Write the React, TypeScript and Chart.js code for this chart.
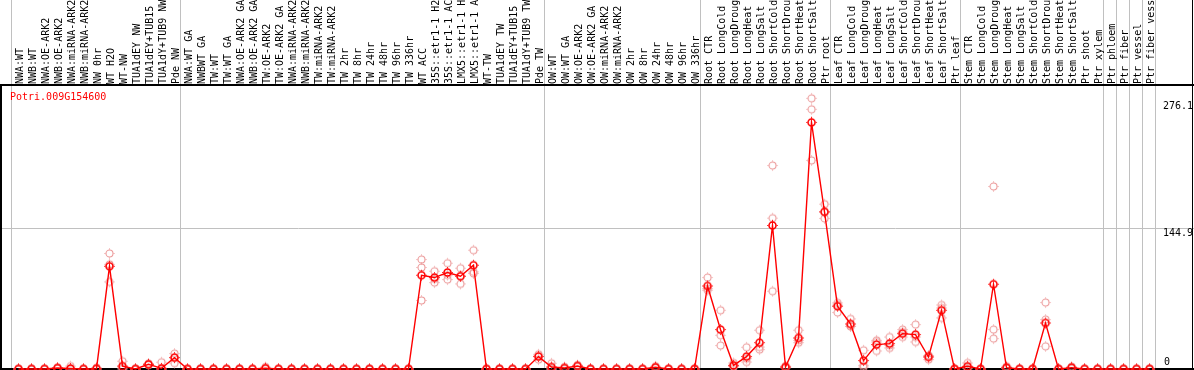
import React, { useEffect, useRef } from "react";
import { Chart, registerables } from "chart.js";
Chart.register(...registerables);

const categories = [
  "NWA:WT", "NWB:WT", "NWA:OE-ARK2", "NWB:OE-ARK2", "NWA:miRNA-ARK2", "NWB:miRNA-ARK2",
  "NW 0hr", "WT H2O", "WT-NW", "TUA1dEY NW", "TUA1dEY+TUB15", "TUA1dY+TUB9 NW", "Pde NW",
  "NWA:WT GA", "NWBWT GA", "TW:WT", "TW:WT GA", "NWA:OE-ARK2 GA", "NWB:OE-ARK2 GA",
  "TW:OE-ARK2", "TW:OE-ARK2 GA", "NWA:miRNA-ARK2", "NWB:miRNA-ARK2", "TW:miRNA-ARK2",
  "TW:miRNA-ARK2", "TW 2hr", "TW 8hr", "TW 24hr", "TW 48hr", "TW 96hr", "TW 336hr",
  "WT ACC", "35S::etr1-1 H2", "35S::etr1-1 AC", "LMX5::etr1-1 H", "LMX5::etr1-1 A",
  "WT-TW", "TUA1dEY TW", "TUA1dEY+TUB15", "TUA1dY+TUB9 TW", "Pde TW",
  "OW:WT", "OW:WT GA", "OW:OE-ARK2", "OW:OE-ARK2 GA", "OW:miRNA-ARK2", "OW:miRNA-ARK2",
  "OW 2hr", "OW 8hr", "OW 24hr", "OW 48hr", "OW 96hr", "OW 336hr",
  "Root CTR", "Root LongCold", "Root LongDroug", "Root LongHeat", "Root LongSalt",
  "Root ShortCold", "Root ShortDrou", "Root ShortHeat", "Root ShortSalt", "Ptr root",
  "Leaf CTR", "Leaf LongCold", "Leaf LongDroug", "Leaf LongHeat", "Leaf LongSalt",
  "Leaf ShortCold", "Leaf ShortDrou", "Leaf ShortHeat", "Leaf ShortSalt", "Ptr leaf",
  "Stem CTR", "Stem LongCold", "Stem LongDroug", "Stem LongHeat", "Stem LongSalt",
  "Stem ShortCold", "Stem ShortDrou", "Stem ShortHeat", "Stem ShortSalt", "Ptr shoot",
  "Ptr xylem", "Ptr phloem", "Ptr fiber", "Ptr vessel", "Ptr fiber vess",
];

const meanValues = [
  0, 0, 0, 1, 0.5, 0, 0.3, 106, 3, 0, 4.8, 0.7, 11.7,
  0, 0, 0, 0, 0, 0, 0.8, 0, 0, 0, 0, 0, 0, 0, 0, 0, 0, 0,
  96.8, 94.4, 99.6, 95.8, 107.1, 0, 0, 0, 0, 12.8,
  2, 1, 3.1, 0, 0, 0, 0, 0, 1.8, 0, 0, 0,
  85.7, 40.7, 3.8, 12.8, 27.2, 148.1, 2, 32, 254.5, 162.2,
  64.8, 46.5, 8.7, 25.2, 26.2, 36.5, 35.5, 12.4, 60.6, 0,
  2.8, 0, 87.5, 1.4, 0, 0, 47.5, 0, 1.4, 0, 0,
  0, 0, 0, 0,
];

const replicate1 = [
  0, 0, 0, 1.5, 3, 0, 1.5, 119.2, 8, 0, 5.5, 7, 15.9,
  0, 0, 0, 0, 0, 0, 2, 0, 0, 0, 0, 0, 0, 0, 0, 0, 0, 0,
  113, 100.9, 109.2, 104, 122.6, 0, 0, 0, 0, 15.2,
  5.9, 2, 4, 0, 0, 0, 0, 0, 2.8, 0, 0, 0,
  94.4, 60.6, 6.2, 22.4, 40, 210, 3, 40, 279.3, 170.1,
  68.2, 51.7, 19.3, 29.6, 33, 40.7, 45.8, 13.8, 66.1, 0,
  6.2, 0, 188.4, 2.8, 0, 0, 68.6, 0, 2.5, 0, 0,
  0, 0, 0, 0,
];

const replicate2 = [
  0, 0, 0, 1, 0, 0, 0, 108, 1, 0, 5, 0, 12,
  0, 0, 0, 0, 0, 0, 0.5, 0, 0, 0, 0, 0, 0, 0, 0, 0, 0, 0,
  104.8, 93, 97, 95.5, 100.2, 0, 0, 0, 0, 13.5,
  0, 1, 3, 0, 0, 0, 0, 0, 1.5, 0, 0, 0,
  83, 34.8, 2.8, 10.7, 22.7, 155.7, 2, 29.6, 268, 162,
  66, 44.1, 3.8, 27.9, 24.5, 38, 33, 13.5, 63, 0,
  1.5, 0, 40.7, 1, 0, 0, 51, 0, 1.5, 0, 0,
  0, 0, 0, 0,
];

const replicate3 = [
  0, 0, 0, 0.5, 0, 0, 0, 89.9, 0, 0, 4, 0, 6,
  0, 0, 0, 0, 0, 0, 0, 0, 0, 0, 0, 0, 0, 0, 0, 0, 0, 0,
  70.7, 89.2, 92.3, 87.8, 98.5, 0, 0, 0, 0, 9.7,
  0, 0, 2.3, 0, 0, 0, 0, 0, 1, 0, 0, 0,
  81.3, 24.2, 2.4, 7.2, 20, 80.3, 1, 27.2, 215.3, 155.4,
  58.3, 44, 2, 18.6, 21.7, 33, 27.9, 9.7, 52.7, 0,
  0.5, 0, 31.4, 0.5, 0, 0, 23.4, 0, 0.3, 0, 0,
  0, 0, 0, 0,
];

// separators are drawn after these category counts
const groupBoundaries = [0, 13, 41, 53, 63, 73, 84, 85, 86, 87, 88];
const yTickValues = [276.1, 144.9, 0];
const yTickLabels = ["276.1", "144.9", "0"];
const yGridValues = [144.9];
const geneId = "Potri.009G154600";

const Y_MAX = 293.1;
const X_MIN = -0.346;
const X_MAX = 91.346;
const FONT = "10px 'DejaVu Sans Mono', monospace";

function makeMarker(color: string, r: number, lw: number) {
  const s = 13;
  const c = document.createElement("canvas");
  c.width = s;
  c.height = s;
  const g = c.getContext("2d")!;
  const m = s / 2;
  g.strokeStyle = color;
  g.lineWidth = lw;
  g.beginPath();
  g.arc(m, m, r, 0, Math.PI * 2);
  g.stroke();
  g.lineWidth = 1;
  g.beginPath();
  const o = r + lw / 2;
  g.moveTo(m, m - o - 1);
  g.lineTo(m, m - o);
  g.moveTo(m, m + o + 1);
  g.lineTo(m, m + o);
  g.moveTo(m - o - 1, m);
  g.lineTo(m - o, m);
  g.moveTo(m + o + 1, m);
  g.lineTo(m + o, m);
  g.stroke();
  return c;
}

export default function App() {
  const ref = useRef<HTMLCanvasElement>(null);

  useEffect(() => {
    const canvas = ref.current!;
    const mainMarker = makeMarker("#ff0000", 3.5, 1.6);
    const repMarker = makeMarker("#ec9a9a", 3.5, 1.1);
    const toPts = (arr: number[]) => arr.map((y, i) => ({ x: i + 1, y }));

    const decor = {
      id: "decor",
      beforeDraw(chart: any) {
        const ctx = chart.ctx as CanvasRenderingContext2D;
        const x = chart.scales.x;
        const y = chart.scales.y;
        const W = chart.width;
        const H = chart.height;
        ctx.save();
        ctx.fillStyle = "#ffffff";
        ctx.fillRect(0, 0, W, H);

        ctx.strokeStyle = "#c0c0c0";
        ctx.lineWidth = 1;
        ctx.beginPath();
        for (const b of groupBoundaries) {
          const px = Math.round(x.getPixelForValue(b + 0.5)) - 0.5;
          ctx.moveTo(px, 0);
          ctx.lineTo(px, H);
        }
        for (const v of yGridValues) {
          const py = Math.round(y.getPixelForValue(v)) - 0.5;
          ctx.moveTo(0, py);
          ctx.lineTo(W, py);
        }
        ctx.stroke();

        ctx.fillStyle = "#000000";
        ctx.font = FONT;
        categories.forEach((c, i) => {
          const px = x.getPixelForValue(i + 1);
          ctx.save();
          ctx.translate(px + 1.5, 84);
          ctx.rotate(-Math.PI / 2);
          ctx.textAlign = "left";
          ctx.textBaseline = "middle";
          ctx.fillText(c, 0, 0);
          ctx.restore();
        });

        ctx.fillRect(0, 84, W, 2);
        ctx.fillRect(0, 85, 2, H - 85);
        ctx.fillRect(W - 2, 0, 1, H);
        ctx.fillRect(0, H - 2, W, 2);

        ctx.textAlign = "left";
        yTickValues.forEach((v, i) => {
          const py = y.getPixelForValue(v);
          if (v === 0) {
            ctx.textBaseline = "alphabetic";
            ctx.fillText(yTickLabels[i], 1164, py - 4);
          } else {
            ctx.textBaseline = "top";
            ctx.fillText(yTickLabels[i], 1163, py);
          }
        });

        ctx.fillStyle = "#ff0000";
        ctx.textBaseline = "alphabetic";
        ctx.fillText(geneId, 10, 100);
        ctx.restore();
      },
    };

    const chart = new Chart(canvas, {
      type: "line",
      data: {
        datasets: [
          {
            data: toPts(meanValues),
            borderColor: "#ff0000",
            borderWidth: 1.4,
            pointStyle: mainMarker as any,
            pointRadius: 4,
            tension: 0,
            clip: false as any,
          },
          ...[replicate1, replicate2, replicate3].map((r) => ({
            data: toPts(r),
            showLine: false,
            borderColor: "#ec9a9a",
            pointStyle: repMarker as any,
            pointRadius: 4,
            clip: false as any,
          })),
        ],
      },
      options: {
        responsive: false,
        animation: false,
        events: [],
        layout: { autoPadding: false, padding: { left: 1, right: 1, top: 85, bottom: 1 } },
        scales: {
          x: { type: "linear", min: X_MIN, max: X_MAX, display: false },
          y: { type: "linear", min: 0, max: Y_MAX, display: false },
        },
        plugins: { legend: { display: false }, tooltip: { enabled: false } },
      },
      plugins: [decor],
    });
    return () => chart.destroy();
  }, []);

  return (
    <div style={{ position: "fixed", left: 0, top: 0, width: 1194, height: 370 }}>
      <canvas ref={ref} width={1194} height={370} style={{ display: "block" }} />
    </div>
  );
}
